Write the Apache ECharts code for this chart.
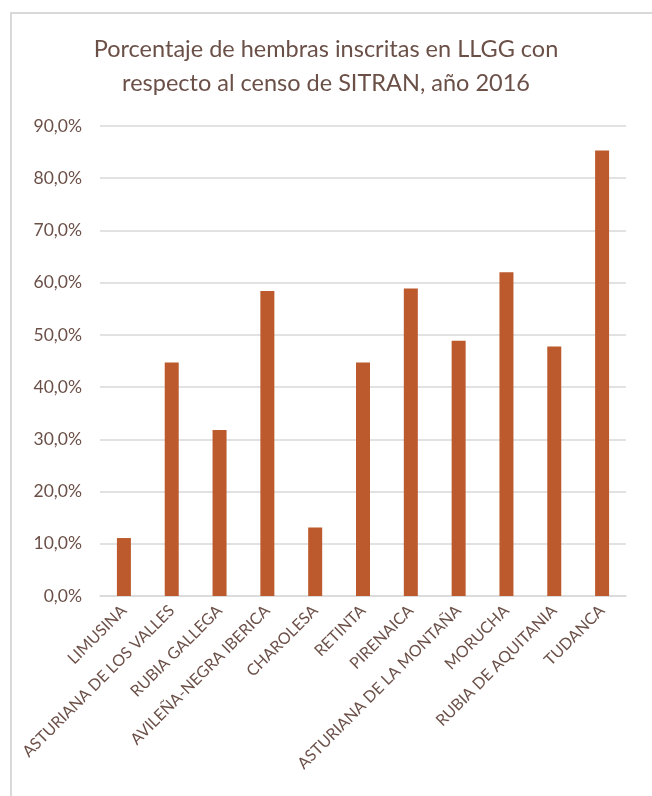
<!DOCTYPE html>
<html>
<head>
<meta charset="utf-8">
<script src="https://cdn.jsdelivr.net/npm/echarts@6/dist/echarts.min.js"></script>
<style>
  html, body { margin: 0; padding: 0; background: #fff; overflow: hidden; }
  #frame { position: absolute; left: 10px; top: 12px; width: 700px; height: 850px; border: 2px solid #d9d9d9; }
  #chart { position: absolute; left: 0; top: 0; width: 652px; height: 796px; }
</style>
</head>
<body>
<div id="frame"></div>
<div id="chart"></div>
<script>
// razas
const categories = ['LIMUSINA', 'ASTURIANA DE LOS VALLES', 'RUBIA GALLEGA', 'AVILEÑA-NEGRA IBERICA', 'CHAROLESA',
  'RETINTA', 'PIRENAICA', 'ASTURIANA DE LA MONTAÑA', 'MORUCHA', 'RUBIA DE AQUITANIA', 'TUDANCA'];
// % hembras inscritas
const porcentajes = [11.1, 44.7, 31.8, 58.4, 13.1, 44.7, 58.9, 48.9, 62.0, 47.8, 85.3];

const textColor = '#6b5048';
const chart = echarts.init(document.getElementById('chart'));

chart.setOption({
  title: {
    text: 'Porcentaje de hembras inscritas en LLGG con\nrespecto al censo de SITRAN, año 2016',
    left: 'center',
    top: 27,
    textStyle: {
      color: textColor,
      fontFamily: 'Lato',
      fontWeight: 'normal',
      fontSize: 23.5,
      lineHeight: 34,
    },
  },
  grid: {
    left: 100,
    right: 26,
    top: 126,
    bottom: 200,
  },
  xAxis: {
    type: 'category',
    data: categories,
    axisLine: { lineStyle: { color: '#d9d9d9', width: 1.5 } },
    axisTick: { show: false },
    axisLabel: {
      interval: 0,
      rotate: 45,
      margin: 12,
      color: textColor,
      fontFamily: 'Lato',
      fontSize: 16,
    },
  },
  yAxis: {
    type: 'value',
    min: 0,
    max: 90,
    interval: 10,
    axisLine: { show: false },
    axisTick: { show: false },
    splitLine: { lineStyle: { color: '#d9d9d9', width: 1.5 } },
    axisLabel: {
      margin: 18,
      color: textColor,
      fontFamily: 'Lato',
      fontSize: 17.5,
      formatter: (v) => v.toFixed(1).replace('.', ',') + '%',
    },
  },
  series: [
    {
      type: 'bar',
      data: porcentajes,
      barWidth: 14,
      itemStyle: { color: '#bd5a2d' },
    },
  ],
});
</script>
</body>
</html>
